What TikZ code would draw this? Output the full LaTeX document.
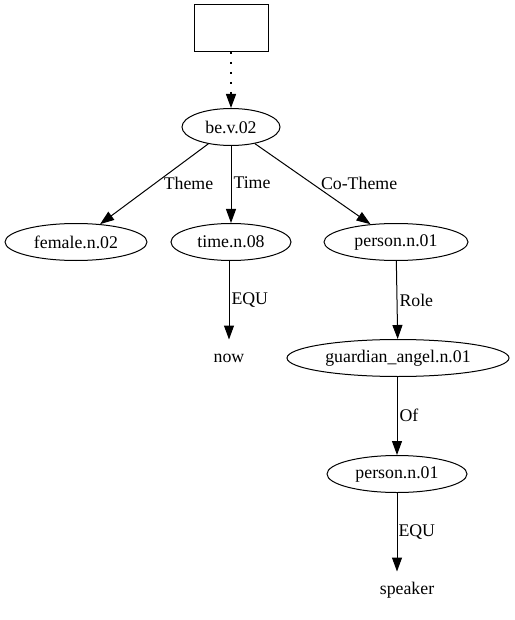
\documentclass[tikz,border=0pt]{standalone}
\usepackage{fontspec}
\setmainfont{Liberation Serif}
\usepackage{tikz}
\usetikzlibrary{shapes.geometric,arrows.meta}

\begin{document}
\begin{tikzpicture}[
  x=1pt, y=-1pt,
  every node/.style={font=\fontsize{17.8}{20}\selectfont},
  line width=1pt,
  sense/.style={draw, ellipse, inner sep=0pt, minimum height=37pt},
  topbox/.style={draw, rectangle, minimum width=74pt, minimum height=47pt},
  word/.style={inner sep=0pt, minimum height=36pt},
  lbl/.style={anchor=west, inner sep=0pt},
  arrow/.style={-{Triangle[length=14pt,width=10pt]}}
]
\useasboundingbox (0,0) rectangle (514,620);

% Top box
\node[topbox] (boxtop) at (231,28) {};

% Event
\node[sense, minimum width=98pt] (be) at (231,127) {be.v.02};

% Roles of the event
\node[sense, minimum width=142pt] (female) at (76,242) {female.n.02};
\node[sense, minimum width=120pt] (time) at (231,242) {time.n.08};
\node[sense, minimum width=144pt] (person) at (396,242) {person.n.01};

% Below
\node[word] (now) at (229,358) {now};
\node[sense, minimum width=222pt] (angel) at (398,358) {guardian\_angel.n.01};
\node[sense, minimum width=140pt] (personb) at (397,474) {person.n.01};
\node[word] (speaker) at (407,590) {speaker};

% Arrows
\draw[arrow, line width=1.3pt, dash pattern=on 2pt off 8pt] (boxtop) -- (be);
\draw[arrow] (be) -- node[lbl, pos=0.49, xshift=8pt] {Theme} (female);
\draw[arrow] (be) -- node[lbl, pos=0.48, xshift=2pt] {Time} (time);
\draw[arrow] (be) -- node[lbl, pos=0.49, xshift=9pt] {Co-Theme} (person);
\draw[arrow] (time.south -| now) -- node[lbl, pos=0.5, xshift=2pt] {EQU} (now.north);
\draw[arrow] (person) -- node[lbl, pos=0.5, xshift=2pt] {Role} (angel);
\draw[arrow] (angel.south -| personb) -- node[lbl, pos=0.49, xshift=2pt] {Of} (personb.north);
\draw[arrow] (personb.south) -- node[lbl, pos=0.5, xshift=1pt] {EQU} (speaker.north -| personb.south);

\end{tikzpicture}
\end{document}
